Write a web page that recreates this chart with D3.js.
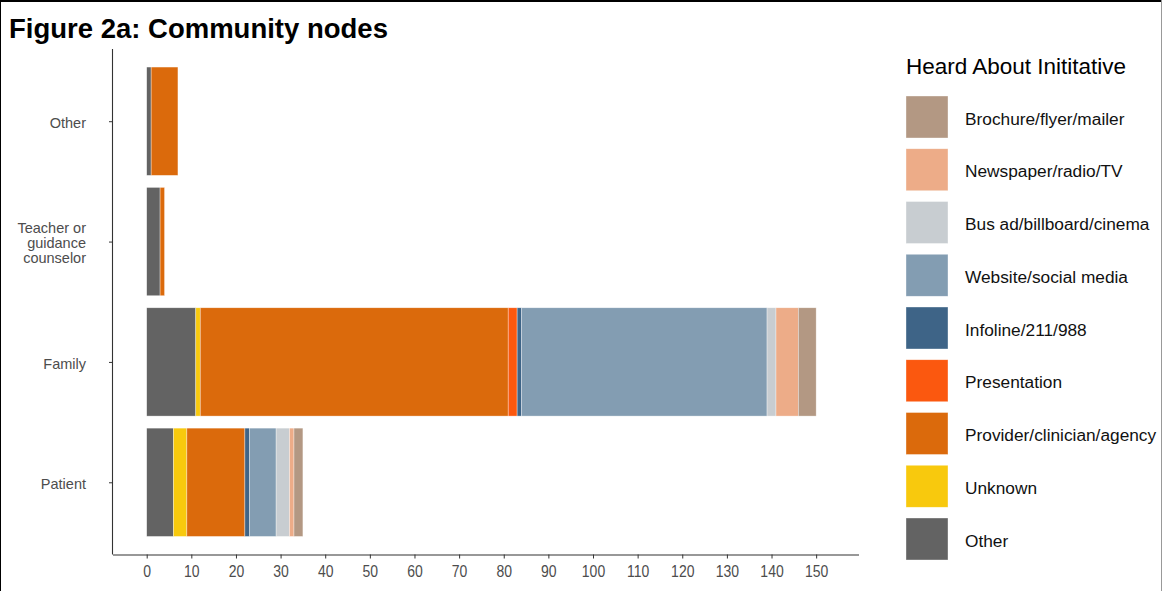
<!DOCTYPE html>
<html>
<head>
<meta charset="utf-8">
<script src="https://cdn.jsdelivr.net/npm/d3@7"></script>
<style>
  html, body { margin: 0; padding: 0; background: #fff; }
  svg { display: block; font-family: "Liberation Sans", Arial, sans-serif; }
</style>
</head>
<body>
<svg id="chart" width="1162" height="591"></svg>
<script>
// ---- data ----
const categories = ["Other", "Teacher or\nguidance\ncounselor", "Family", "Patient"];
const sources = ["Other", "Unknown", "Provider/clinician/agency", "Presentation",
  "Infoline/211/988", "Website/social media", "Bus ad/billboard/cinema",
  "Newspaper/radio/TV", "Brochure/flyer/mailer"];
const colors = ["#636363", "#F8C90D", "#DB6A0C", "#FB580F", "#3E6487",
  "#839DB2", "#C8CDD1", "#EDAC88", "#B39883"];
// values per source, in category order
const valOther        = [1, 3, 11, 6];
const valUnknown      = [0, 0, 1, 3];
const valProvider     = [6, 1, 69, 13];
const valPresentation = [0, 0, 2, 0];
const valInfoline     = [0, 0, 1, 1];
const valWebsite      = [0, 0, 55, 6];
const valBus          = [0, 0, 2, 3];
const valNewspaper    = [0, 0, 5, 1];
const valBrochure     = [0, 0, 4, 2];
const xTicks = [0,10,20,30,40,50,60,70,80,90,100,110,120,130,140,150];
const titleText = "Figure 2a: Community nodes";
const legendTitle = "Heard About Inititative";

const seriesVals = [valOther, valUnknown, valProvider, valPresentation, valInfoline,
  valWebsite, valBus, valNewspaper, valBrochure];
const table = categories.map((c, i) => {
  const row = { cat: c };
  sources.forEach((s, j) => row[s] = seriesVals[j][i]);
  return row;
});
const stacked = d3.stack().keys(sources)(table);

const svg = d3.select("#chart");

// frame
svg.append("line").attr("x1", 0).attr("x2", 1162).attr("y1", 1).attr("y2", 1)
  .attr("stroke", "#000").attr("stroke-width", 2);
svg.append("line").attr("x1", 0.5).attr("x2", 0.5).attr("y1", 0).attr("y2", 591)
  .attr("stroke", "#000").attr("stroke-width", 1);
svg.append("line").attr("x1", 1161.5).attr("x2", 1161.5).attr("y1", 0).attr("y2", 591)
  .attr("stroke", "#999").attr("stroke-width", 1);

// title
svg.append("text").attr("x", 9).attr("y", 38)
  .attr("font-weight", "bold").attr("font-size", 27.5).attr("fill", "#000")
  .text(titleText);

// scales
const plotLeft = 113, plotRight = 859, plotTop = 49, plotBottom = 554.5;
const x = d3.scaleLinear().domain([-7.55, 159.6]).range([plotLeft, plotRight]);
const y = d3.scalePoint().domain(categories).range([plotTop, plotBottom]).padding(0.6);
const bh = y.step() * 0.9;

// bars
const g = svg.append("g");
stacked.forEach((layer, j) => {
  g.selectAll(null).data(layer.filter(d => d[1] > d[0])).enter().append("rect")
    .attr("x", d => x(d[0]))
    .attr("width", d => x(d[1]) - x(d[0]))
    .attr("y", d => y(d.data.cat) - bh / 2)
    .attr("height", bh)
    .attr("fill", colors[j])
    .attr("stroke", "#ffffff").attr("stroke-opacity", 0.6).attr("stroke-width", 0.6);
});

// x axis
const xAxis = svg.append("g").attr("transform", `translate(0,${plotBottom})`)
  .call(d3.axisBottom(x).tickValues(xTicks).tickSize(4).tickPadding(4).tickSizeOuter(0));
xAxis.select(".domain").attr("stroke", "#333").attr("stroke-width", 1.1)
  .attr("d", `M${plotLeft},0.5H${plotRight}`);
xAxis.selectAll(".tick line").attr("stroke", "#333");
xAxis.selectAll(".tick text").attr("fill", "#4D4D4D").attr("font-size", 14)
  .attr("font-family", "Liberation Sans, Arial, sans-serif")
  .attr("dy", null).attr("y", 0)
  .attr("transform", "translate(0,22) scale(1,1.22)");

// y axis
const yAxis = svg.append("g").attr("transform", `translate(${plotLeft},0)`)
  .call(d3.axisLeft(y).tickSize(4).tickPadding(6).tickSizeOuter(0).tickFormat(() => ""));
yAxis.select(".domain").attr("stroke", "#333").attr("stroke-width", 1.1)
  .attr("d", `M-0.5,${plotTop}V${plotBottom}`);
yAxis.selectAll(".tick line").attr("stroke", "#333");
yAxis.selectAll(".tick").each(function(d) {
  const lines = d.split("\n");
  const t = d3.select(this).append("text")
    .attr("fill", "#4D4D4D").attr("font-size", 14.5).attr("text-anchor", "end")
    .attr("font-family", "Liberation Sans, Arial, sans-serif");
  const lh = 15;
  lines.forEach((ln, k) => {
    t.append("tspan").attr("x", -27)
      .attr("y", (k - (lines.length - 1) / 2) * lh + 1).attr("dy", "0.37em").text(ln);
  });
});

// legend
const lg = svg.append("g");
lg.append("text").attr("x", 906).attr("y", 74).attr("font-size", 22.5).attr("fill", "#000")
  .text(legendTitle);
const legOrder = sources.map((s, j) => j).reverse();
legOrder.forEach((j, k) => {
  const top = 96 + k * 52.75;
  lg.append("rect").attr("x", 906).attr("y", top).attr("width", 42).attr("height", 42)
    .attr("fill", colors[j]).attr("stroke", "#fff").attr("stroke-opacity", 0.6).attr("stroke-width", 0.6);
  lg.append("text").attr("x", 965).attr("y", top + 22.5).attr("dy", "0.35em")
    .attr("font-size", 17.3).attr("fill", "#111").text(sources[j]);
});
</script>
</body>
</html>
